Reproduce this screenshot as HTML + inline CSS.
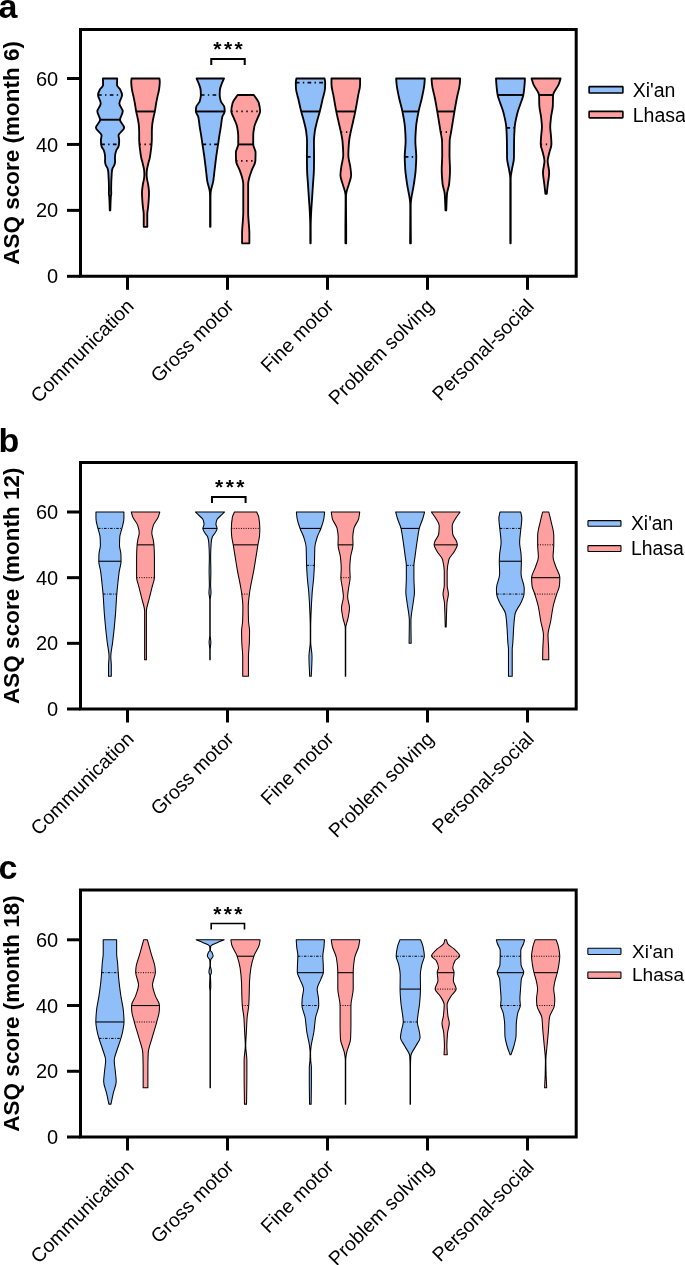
<!DOCTYPE html>
<html><head><meta charset="utf-8"><style>
html,body{margin:0;padding:0;background:#fff;overflow:hidden;}
svg{display:block;font-family:"Liberation Sans",sans-serif;will-change:transform;}
</style></head><body>
<svg width="685" height="1265" viewBox="0 0 685 1265">
<rect width="685" height="1265" fill="#fff"/>
<path d="M102.92 78.5 L117.17 78.5 C117.12 80.73 117.02 82.97 117.02 85.2 C117.02 86.53 119.31 87.87 119.97 89.2 C120.93 91.1 122.07 93 122.07 94.9 C122.07 97.77 119.37 100.63 119.37 103.5 C119.37 106.1 122.77 108.7 122.77 111.3 C122.77 114.13 119.97 116.97 119.97 119.8 C119.97 122.43 124.17 125.07 124.17 127.7 C124.17 130.3 118.52 132.9 118.52 135.5 C118.52 137 119.17 138.5 119.17 140 C119.17 141.47 119.1 142.93 118.97 144.4 C118.9 145.3 118.59 146.2 118.27 147.1 C117.87 148.23 116.7 149.37 116.27 150.5 C115.82 151.73 115.43 152.97 115.27 154.2 C115.12 155.4 114.97 156.6 114.97 157.8 C114.97 159 115.07 160.2 115.07 161.4 C115.07 162.6 114.72 163.8 114.37 165 C114.04 166.17 112.78 167.33 112.46 168.5 C112.14 169.67 111.93 170.83 111.83 172 C111.72 173.2 111.68 174.4 111.61 175.6 C111.48 177.97 111.31 180.33 111.25 182.7 C111.2 185.07 111.15 187.43 111.15 189.8 C111.15 191 111.25 192.2 111.25 193.4 C111.25 194.57 110.92 195.73 110.84 196.9 C110.67 199.3 110.59 201.7 110.5 204.1 C110.42 206.19 110.37 208.28 110.31 210.37 L109.79 210.37 C109.73 208.28 109.68 206.19 109.6 204.1 C109.51 201.7 109.43 199.3 109.26 196.9 C109.18 195.73 108.85 194.57 108.85 193.4 C108.85 192.2 108.95 191 108.95 189.8 C108.95 187.43 108.9 185.07 108.85 182.7 C108.79 180.33 108.62 177.97 108.49 175.6 C108.42 174.4 108.38 173.2 108.27 172 C108.17 170.83 107.96 169.67 107.64 168.5 C107.32 167.33 106.06 166.17 105.73 165 C105.38 163.8 105.03 162.6 105.03 161.4 C105.03 160.2 105.12 159 105.12 157.8 C105.12 156.6 104.98 155.4 104.83 154.2 C104.67 152.97 104.28 151.73 103.83 150.5 C103.4 149.37 102.23 148.23 101.83 147.1 C101.51 146.2 101.2 145.3 101.12 144.4 C101 142.93 100.92 141.47 100.92 140 C100.92 138.5 101.58 137 101.58 135.5 C101.58 132.9 95.92 130.3 95.92 127.7 C95.92 125.07 100.12 122.43 100.12 119.8 C100.12 116.97 97.33 114.13 97.33 111.3 C97.33 108.7 100.73 106.1 100.73 103.5 C100.73 100.63 98.03 97.77 98.03 94.9 C98.03 93 99.17 91.1 100.12 89.2 C100.79 87.87 103.08 86.53 103.08 85.2 C103.08 82.97 102.97 80.73 102.92 78.5 Z" fill="#90bef8" stroke="#000" stroke-width="1.85" stroke-linejoin="round"/><line x1="100.09" y1="119.71" x2="120.01" y2="119.71" stroke="#000" stroke-width="1.9"/><line x1="101.13" y1="144.43" x2="118.97" y2="144.43" stroke="#000" stroke-width="1.7" stroke-dasharray="3.7 3.3 1.4 3.3"/><line x1="98.05" y1="94.98" x2="122.05" y2="94.98" stroke="#000" stroke-width="1.7" stroke-dasharray="3.7 3.3 1.4 3.3"/>
<path d="M131.53 78.5 L159.47 78.5 C159.57 79.7 159.78 80.9 159.78 82.1 C159.78 84.47 159.43 86.83 159.12 89.2 C158.81 91.6 158.03 94 157.53 96.4 C157.03 98.77 156.54 101.13 156.12 103.5 C155.64 106.22 155.34 108.93 154.82 111.65 C154.44 113.67 153.82 115.68 153.42 117.7 C152.96 120.07 152.43 122.43 152.22 124.8 C152.03 127.17 151.82 129.53 151.82 131.9 C151.82 134.3 151.82 136.7 151.82 139.1 C151.82 140.98 151.66 142.87 151.53 144.75 C151.4 146.5 151.14 148.25 150.92 150 C150.63 152.37 150.35 154.73 149.92 157.1 C149.5 159.47 148.64 161.83 148.12 164.2 C147.6 166.6 146.86 169 146.75 171.4 C146.69 172.57 146.64 173.73 146.64 174.9 C146.64 176.1 146.82 177.3 146.96 178.5 C147.23 180.87 148.02 183.23 148.32 185.6 C148.63 187.97 149.03 190.33 149.03 192.7 C149.03 195.07 148.86 197.43 148.72 199.8 C148.59 202.17 148.36 204.53 148.12 206.9 C147.89 209.3 147.28 211.7 147.28 214.1 C147.28 216.47 147.28 218.83 147.28 221.2 C147.28 223.08 147.28 224.97 147.28 226.85 L143.72 226.85 C143.72 224.97 143.72 223.08 143.72 221.2 C143.72 218.83 143.72 216.47 143.72 214.1 C143.72 211.7 143.11 209.3 142.88 206.9 C142.64 204.53 142.41 202.17 142.28 199.8 C142.14 197.43 141.97 195.07 141.97 192.7 C141.97 190.33 142.37 187.97 142.68 185.6 C142.98 183.23 143.77 180.87 144.04 178.5 C144.18 177.3 144.36 176.1 144.36 174.9 C144.36 173.73 144.31 172.57 144.25 171.4 C144.14 169 143.4 166.6 142.88 164.2 C142.36 161.83 141.5 159.47 141.08 157.1 C140.65 154.73 140.37 152.37 140.08 150 C139.86 148.25 139.6 146.5 139.47 144.75 C139.34 142.87 139.18 140.98 139.18 139.1 C139.18 136.7 139.18 134.3 139.18 131.9 C139.18 129.53 138.97 127.17 138.78 124.8 C138.57 122.43 138.04 120.07 137.58 117.7 C137.18 115.68 136.56 113.67 136.18 111.65 C135.66 108.93 135.36 106.22 134.88 103.5 C134.46 101.13 133.97 98.77 133.47 96.4 C132.97 94 132.19 91.6 131.88 89.2 C131.57 86.83 131.22 84.47 131.22 82.1 C131.22 80.9 131.43 79.7 131.53 78.5 Z" fill="#ffa0a0" stroke="#000" stroke-width="1.85" stroke-linejoin="round"/><line x1="136.15" y1="111.47" x2="154.85" y2="111.47" stroke="#000" stroke-width="1.9"/><line x1="139.46" y1="144.43" x2="151.54" y2="144.43" stroke="#000" stroke-width="1.7" stroke-dasharray="1.4 3.6"/>
<path d="M196.52 78.5 L224.03 78.5 C223.2 80.41 222.2 82.32 221.54 84.23 C220.88 86.13 220.03 88.03 219.9 89.93 C219.78 91.73 219.69 93.53 219.69 95.34 C219.69 97.33 220.24 99.32 220.83 101.32 C221.38 103.21 224.11 105.11 224.38 107.01 C224.59 108.43 224.74 109.86 224.74 111.28 C224.74 113.18 222.68 115.08 222.25 116.98 C221.5 120.3 221.34 123.62 220.83 126.94 C220.39 129.79 219.85 132.63 219.4 135.48 C218.95 138.33 218.55 141.17 218.12 144.02 C217.55 147.82 216.93 151.61 216.41 155.41 C215.76 160.15 215.21 164.9 214.63 169.64 C214.17 173.44 213.88 177.24 213.28 181.03 C212.69 184.83 210.84 188.62 210.65 192.42 C210.55 194.32 210.47 196.22 210.47 198.11 C210.47 207.69 210.47 217.27 210.47 226.85 L210.07 226.85 C210.07 217.27 210.07 207.69 210.07 198.11 C210.07 196.22 209.99 194.32 209.9 192.42 C209.71 188.62 207.86 184.83 207.27 181.03 C206.67 177.24 206.38 173.44 205.92 169.64 C205.34 164.9 204.78 160.15 204.14 155.41 C203.62 151.61 203 147.82 202.43 144.02 C202 141.17 201.6 138.33 201.15 135.48 C200.7 132.63 200.16 129.79 199.72 126.94 C199.21 123.62 199.05 120.3 198.3 116.98 C197.87 115.08 195.81 113.18 195.81 111.28 C195.81 109.86 195.96 108.43 196.16 107.01 C196.43 105.11 199.17 103.21 199.72 101.32 C200.31 99.32 200.86 97.33 200.86 95.34 C200.86 93.53 200.77 91.73 200.65 89.93 C200.52 88.03 199.67 86.13 199.01 84.23 C198.35 82.32 197.35 80.41 196.52 78.5 Z" fill="#90bef8" stroke="#000" stroke-width="1.85" stroke-linejoin="round"/><line x1="195.89" y1="111.47" x2="224.66" y2="111.47" stroke="#000" stroke-width="1.9"/><line x1="202.49" y1="144.43" x2="218.06" y2="144.43" stroke="#000" stroke-width="1.7" stroke-dasharray="3.7 3.3 1.4 3.3"/><line x1="200.85" y1="94.98" x2="219.7" y2="94.98" stroke="#000" stroke-width="1.7" stroke-dasharray="3.7 3.3 1.4 3.3"/>
<path d="M237.66 94.98 L253.78 94.98 C255.44 97.57 258.07 100.15 258.76 102.74 C259.52 105.59 260.18 108.43 260.18 111.28 C260.18 113.65 258.38 116.03 257.48 118.4 C256.41 121.25 254.81 124.09 254.28 126.94 C253.74 129.79 253.21 132.63 253.21 135.48 C253.21 138.42 253.21 141.36 253.21 144.31 C253.21 147.06 255.56 149.81 255.56 152.56 C255.56 155.41 255.48 158.26 255.34 161.1 C255.21 163.95 253.02 166.8 252 169.64 C250.97 172.49 249.79 175.34 249.15 178.19 C248.73 180.08 248.16 181.98 248.16 183.88 C248.16 193.37 248.16 202.86 248.16 212.35 C248.16 219.47 249.37 226.58 249.37 233.7 C249.37 236.91 249.37 240.12 249.37 243.33 L242.07 243.33 C242.07 240.12 242.07 236.91 242.07 233.7 C242.07 226.58 243.28 219.47 243.28 212.35 C243.28 202.86 243.28 193.37 243.28 183.88 C243.28 181.98 242.71 180.08 242.29 178.19 C241.65 175.34 240.46 172.49 239.44 169.64 C238.41 166.8 236.23 163.95 236.09 161.1 C235.96 158.26 235.88 155.41 235.88 152.56 C235.88 149.81 238.23 147.06 238.23 144.31 C238.23 141.36 238.23 138.42 238.23 135.48 C238.23 132.63 237.69 129.79 237.16 126.94 C236.63 124.09 235.03 121.25 233.96 118.4 C233.06 116.03 231.25 113.65 231.25 111.28 C231.25 108.43 231.92 105.59 232.68 102.74 C233.37 100.15 236 97.57 237.66 94.98 Z" fill="#ffa0a0" stroke="#000" stroke-width="1.85" stroke-linejoin="round"/><line x1="238.19" y1="144.43" x2="253.25" y2="144.43" stroke="#000" stroke-width="1.9"/><line x1="236.09" y1="160.92" x2="255.35" y2="160.92" stroke="#000" stroke-width="1.7" stroke-dasharray="1.4 3.6"/><line x1="231.32" y1="111.47" x2="260.11" y2="111.47" stroke="#000" stroke-width="1.7" stroke-dasharray="1.4 3.6"/>
<path d="M296.38 78.5 L324.6 78.5 C324.79 79.94 325.17 81.37 325.17 82.81 C325.17 84.71 325.1 86.61 325.02 88.51 C324.88 91.83 323.51 95.15 322.75 98.47 C321.75 102.84 320.86 107.2 319.76 111.57 C318.94 114.79 317.85 118.02 317.05 121.25 C316.23 124.57 315.28 127.89 314.85 131.21 C314.41 134.53 313.92 137.85 313.92 141.17 C313.92 146.3 314.06 151.42 314.06 156.55 C314.06 160.91 314 165.28 313.92 169.64 C313.83 174.39 313.33 179.13 313.02 183.88 C312.72 188.62 312.4 193.37 312.09 198.11 C311.77 202.86 311.35 207.6 311.15 212.35 C310.94 217.09 310.69 221.84 310.69 226.58 C310.69 232.17 310.69 237.75 310.69 243.33 L310.29 243.33 C310.29 237.75 310.29 232.17 310.29 226.58 C310.29 221.84 310.03 217.09 309.83 212.35 C309.62 207.6 309.2 202.86 308.89 198.11 C308.58 193.37 308.26 188.62 307.95 183.88 C307.64 179.13 307.14 174.39 307.05 169.64 C306.97 165.28 306.91 160.91 306.91 156.55 C306.91 151.42 307.05 146.3 307.05 141.17 C307.05 137.85 306.56 134.53 306.13 131.21 C305.69 127.89 304.74 124.57 303.92 121.25 C303.12 118.02 302.03 114.79 301.22 111.57 C300.12 107.2 299.23 102.84 298.23 98.47 C297.47 95.15 296.09 91.83 295.95 88.51 C295.87 86.61 295.81 84.71 295.81 82.81 C295.81 81.37 296.19 79.94 296.38 78.5 Z" fill="#90bef8" stroke="#000" stroke-width="1.85" stroke-linejoin="round"/><line x1="301.19" y1="111.47" x2="319.78" y2="111.47" stroke="#000" stroke-width="1.9"/><line x1="306.91" y1="156.79" x2="314.06" y2="156.79" stroke="#000" stroke-width="1.7" stroke-dasharray="3.7 3.3 1.4 3.3"/><line x1="295.83" y1="82.62" x2="325.14" y2="82.62" stroke="#000" stroke-width="1.7" stroke-dasharray="3.7 3.3 1.4 3.3"/>
<path d="M331.47 78.5 L360.11 78.5 C360.11 80.41 360.11 82.32 360.11 84.23 C360.11 88.03 358.79 91.83 358.12 95.62 C357.18 100.94 356.33 106.25 355.27 111.57 C354.63 114.79 353.86 118.02 353.14 121.25 C352.32 124.9 351.37 128.55 350.65 132.21 C350.06 135.2 349.33 138.19 349.08 141.17 C348.68 145.92 348.33 150.66 348.33 155.41 C348.33 159.21 349.82 163 350.29 166.8 C350.65 169.64 351.15 172.49 351.15 175.34 C351.15 178.19 349.72 181.03 348.98 183.88 C348.01 187.67 345.99 191.47 345.99 195.27 C345.99 198.59 345.99 201.91 345.99 205.23 C345.99 212.35 346.17 219.47 346.17 226.58 C346.17 232.17 346.17 237.75 346.17 243.33 L345.41 243.33 C345.41 237.75 345.41 232.17 345.41 226.58 C345.41 219.47 345.59 212.35 345.59 205.23 C345.59 201.91 345.59 198.59 345.59 195.27 C345.59 191.47 343.57 187.67 342.6 183.88 C341.86 181.03 340.43 178.19 340.43 175.34 C340.43 172.49 340.93 169.64 341.29 166.8 C341.76 163 343.25 159.21 343.25 155.41 C343.25 150.66 342.9 145.92 342.5 141.17 C342.25 138.19 341.52 135.2 340.93 132.21 C340.21 128.55 339.26 124.9 338.44 121.25 C337.72 118.02 336.95 114.79 336.31 111.57 C335.25 106.25 334.4 100.94 333.46 95.62 C332.79 91.83 331.47 88.03 331.47 84.23 C331.47 82.32 331.47 80.41 331.47 78.5 Z" fill="#ffa0a0" stroke="#000" stroke-width="1.85" stroke-linejoin="round"/><line x1="336.29" y1="111.47" x2="355.29" y2="111.47" stroke="#000" stroke-width="1.9"/><line x1="340.9" y1="132.07" x2="350.68" y2="132.07" stroke="#000" stroke-width="1.7" stroke-dasharray="1.4 3.6"/>
<path d="M396.16 78.5 L424.81 78.5 C424.67 80.41 424.58 82.32 424.38 84.23 C423.91 88.98 422.75 93.72 421.75 98.47 C420.83 102.84 419.4 107.2 418.55 111.57 C417.54 116.69 416.45 121.81 416.06 126.94 C415.7 131.68 415.34 136.43 415.34 141.17 C415.34 146.3 416.27 151.42 416.27 156.55 C416.27 160.91 415.98 165.28 415.7 169.64 C415.4 174.39 414.57 179.13 413.92 183.88 C412.95 191 410.69 198.11 410.69 205.23 C410.69 207.6 410.69 209.98 410.69 212.35 C410.69 222.68 410.8 233 410.86 243.33 L410.11 243.33 C410.17 233 410.29 222.68 410.29 212.35 C410.29 209.98 410.29 207.6 410.29 205.23 C410.29 198.11 408.02 191 407.05 183.88 C406.41 179.13 405.58 174.39 405.27 169.64 C404.99 165.28 404.71 160.91 404.71 156.55 C404.71 151.42 405.63 146.3 405.63 141.17 C405.63 136.43 405.28 131.68 404.92 126.94 C404.53 121.81 403.43 116.69 402.43 111.57 C401.57 107.2 400.15 102.84 399.22 98.47 C398.22 93.72 397.07 88.98 396.59 84.23 C396.4 82.32 396.31 80.41 396.16 78.5 Z" fill="#90bef8" stroke="#000" stroke-width="1.85" stroke-linejoin="round"/><line x1="402.4" y1="111.47" x2="418.57" y2="111.47" stroke="#000" stroke-width="1.9"/><line x1="404.72" y1="156.79" x2="416.26" y2="156.79" stroke="#000" stroke-width="1.7" stroke-dasharray="3.7 3.3 1.4 3.3"/>
<path d="M431.54 78.5 L460.18 78.5 C460.04 80.41 459.95 82.32 459.76 84.23 C459.27 88.98 457.69 93.72 456.77 98.47 C455.92 102.84 455.16 107.2 454.42 111.57 C453.55 116.69 452.76 121.81 451.93 126.94 C451.64 128.7 451.36 130.45 451.07 132.21 C450.59 135.2 449.71 138.19 449.65 141.17 C449.56 145.92 449.51 150.66 449.51 155.41 C449.51 160.15 450.01 164.9 450.01 169.64 C450.01 174.39 449.61 179.13 449.15 183.88 C448.83 187.2 447.25 190.52 446.99 193.84 C446.55 199.35 446.49 204.86 446.24 210.37 L445.49 210.37 C445.23 204.86 445.17 199.35 444.73 193.84 C444.47 190.52 442.9 187.2 442.57 183.88 C442.11 179.13 441.72 174.39 441.72 169.64 C441.72 164.9 442.21 160.15 442.21 155.41 C442.21 150.66 442.17 145.92 442.07 141.17 C442.01 138.19 441.13 135.2 440.65 132.21 C440.37 130.45 440.08 128.7 439.79 126.94 C438.96 121.81 438.18 116.69 437.3 111.57 C436.56 107.2 435.8 102.84 434.95 98.47 C434.04 93.72 432.45 88.98 431.96 84.23 C431.77 82.32 431.68 80.41 431.54 78.5 Z" fill="#ffa0a0" stroke="#000" stroke-width="1.85" stroke-linejoin="round"/><line x1="437.28" y1="111.47" x2="454.44" y2="111.47" stroke="#000" stroke-width="1.9"/><line x1="440.63" y1="132.07" x2="451.1" y2="132.07" stroke="#000" stroke-width="1.7" stroke-dasharray="1.4 3.6"/>
<path d="M496.02 78.5 L524.95 78.5 C524.83 80.41 524.75 82.32 524.6 84.23 C524.32 87.79 524 91.35 523.39 94.91 C523.02 97.05 522.09 99.18 521.39 101.32 C520.16 105.11 518.42 108.91 517.48 112.7 C516.24 117.69 514.97 122.67 514.63 127.65 C514.33 132.16 514.13 136.67 514.06 141.17 C513.98 146.87 514.02 152.56 513.92 158.26 C513.86 162.05 512.49 165.85 511.9 169.64 C511.45 172.49 510.69 175.34 510.69 178.19 C510.69 199.9 510.69 221.62 510.69 243.33 L510.29 243.33 C510.29 221.62 510.29 199.9 510.29 178.19 C510.29 175.34 509.52 172.49 509.08 169.64 C508.48 165.85 507.12 162.05 507.05 158.26 C506.96 152.56 506.99 146.87 506.91 141.17 C506.85 136.67 506.65 132.16 506.34 127.65 C506 122.67 504.73 117.69 503.5 112.7 C502.55 108.91 500.81 105.11 499.58 101.32 C498.89 99.18 497.96 97.05 497.59 94.91 C496.97 91.35 496.65 87.79 496.38 84.23 C496.23 82.32 496.14 80.41 496.02 78.5 Z" fill="#90bef8" stroke="#000" stroke-width="1.85" stroke-linejoin="round"/><line x1="497.61" y1="94.98" x2="523.37" y2="94.98" stroke="#000" stroke-width="1.9"/><line x1="506.35" y1="127.95" x2="514.62" y2="127.95" stroke="#000" stroke-width="1.7" stroke-dasharray="3.7 3.3 1.4 3.3"/>
<path d="M531.54 78.5 L560.61 78.5 C559.99 80.41 559.5 82.32 558.76 84.23 C557.33 87.94 553.21 91.64 553.07 95.34 C552.93 98.75 552.98 102.17 552.85 105.59 C552.72 109.38 551.49 113.18 551.07 116.98 C550.71 120.3 550.22 123.62 550.22 126.94 C550.22 130.26 550.87 133.58 551.07 136.9 C551.22 139.37 551.43 141.84 551.43 144.31 C551.43 147.06 549.97 149.81 549.36 152.56 C548.73 155.41 547.67 158.26 547.67 161.1 C547.67 164.9 549.18 168.7 549.18 172.49 C549.18 176.29 548.29 180.08 547.86 183.88 C547.48 187.21 547.11 190.55 546.73 193.88 L545.42 193.88 C545.04 190.55 544.67 187.21 544.29 183.88 C543.86 180.08 542.97 176.29 542.97 172.49 C542.97 168.7 544.48 164.9 544.48 161.1 C544.48 158.26 543.42 155.41 542.79 152.56 C542.18 149.81 540.72 147.06 540.72 144.31 C540.72 141.84 540.93 139.37 541.08 136.9 C541.28 133.58 541.93 130.26 541.93 126.94 C541.93 123.62 541.44 120.3 541.08 116.98 C540.66 113.18 539.43 109.38 539.3 105.59 C539.17 102.17 539.22 98.75 539.08 95.34 C538.94 91.64 534.82 87.94 533.39 84.23 C532.65 82.32 532.15 80.41 531.54 78.5 Z" fill="#ffa0a0" stroke="#000" stroke-width="1.85" stroke-linejoin="round"/><line x1="538.9" y1="94.98" x2="553.25" y2="94.98" stroke="#000" stroke-width="1.9"/><line x1="540.75" y1="144.43" x2="551.4" y2="144.43" stroke="#000" stroke-width="1.7" stroke-dasharray="1.4 3.6"/>
<path d="M80.5 29.5 H576.2 V276.3 H80.5 Z" fill="none" stroke="#000" stroke-width="3"/>
<line x1="67" y1="276.3" x2="80.5" y2="276.3" stroke="#000" stroke-width="3"/>
<text x="58.2" y="283.4" text-anchor="end" font-size="20">0</text>
<line x1="67" y1="210.37" x2="80.5" y2="210.37" stroke="#000" stroke-width="3"/>
<text x="58.2" y="217.47" text-anchor="end" font-size="20">20</text>
<line x1="67" y1="144.43" x2="80.5" y2="144.43" stroke="#000" stroke-width="3"/>
<text x="58.2" y="151.53" text-anchor="end" font-size="20">40</text>
<line x1="67" y1="78.5" x2="80.5" y2="78.5" stroke="#000" stroke-width="3"/>
<text x="58.2" y="85.6" text-anchor="end" font-size="20">60</text>
<line x1="127.5" y1="276.3" x2="127.5" y2="289.8" stroke="#000" stroke-width="3"/>
<text x="135" y="307.4" text-anchor="end" font-size="19.6" transform="rotate(-45 135 307.4)">Communication</text>
<line x1="227.5" y1="276.3" x2="227.5" y2="289.8" stroke="#000" stroke-width="3"/>
<text x="235" y="307.4" text-anchor="end" font-size="19.6" transform="rotate(-45 235 307.4)">Gross motor</text>
<line x1="327.5" y1="276.3" x2="327.5" y2="289.8" stroke="#000" stroke-width="3"/>
<text x="335" y="307.4" text-anchor="end" font-size="19.6" transform="rotate(-45 335 307.4)">Fine motor</text>
<line x1="427.5" y1="276.3" x2="427.5" y2="289.8" stroke="#000" stroke-width="3"/>
<text x="435" y="307.4" text-anchor="end" font-size="19.6" transform="rotate(-45 435 307.4)">Problem solving</text>
<line x1="527.5" y1="276.3" x2="527.5" y2="289.8" stroke="#000" stroke-width="3"/>
<text x="535" y="307.4" text-anchor="end" font-size="19.6" transform="rotate(-45 535 307.4)">Personal-social</text>
<path d="M211.27 65 V59 H244.72 V65" fill="none" stroke="#000" stroke-width="2"/>
<text x="229.2" y="55.6" text-anchor="middle" font-size="21" font-weight="bold" letter-spacing="2.4">***</text>
<rect x="589.1" y="86.6" width="33.8" height="6.4" fill="#90bef8" stroke="#000" stroke-width="1.6" rx="0.6"/>
<rect x="589.1" y="111.4" width="33.8" height="6.5" fill="#ffa0a0" stroke="#000" stroke-width="1.6" rx="0.6"/>
<text x="632.7" y="97" font-size="19.5">Xi'an</text>
<text x="632.7" y="121.7" font-size="19.5">Lhasa</text>
<text x="-1.5" y="18" font-size="34" font-weight="bold">a</text>
<text x="19" y="152.9" text-anchor="middle" font-size="22.5" font-weight="bold" transform="rotate(-90 19 152.9)">ASQ score (month 6)</text>
<path d="M95.96 512 L123.9 512 C123.9 514.17 123.9 516.34 123.9 518.51 C123.9 521.83 122.64 525.15 121.9 528.47 C121.27 531.32 119.94 534.16 119.77 537.01 C119.6 539.86 119.48 542.7 119.48 545.55 C119.48 548.4 120.81 551.25 120.91 554.09 C120.99 556.56 121.05 559.03 121.05 561.49 C121.05 564.72 119.73 567.95 119.27 571.17 C118.59 575.92 118.13 580.66 117.63 585.41 C117.33 588.35 117.01 591.29 116.78 594.23 C116.26 600.78 116 607.33 115.5 613.88 C115.14 618.62 114.69 623.37 114.22 628.11 C113.74 632.86 113.19 637.6 112.62 642.35 C112.06 647.09 110.81 651.84 110.81 656.58 C110.81 659.43 111.3 662.28 111.3 665.12 C111.3 668.81 111.3 672.49 111.3 676.17 L108.56 676.17 C108.56 672.49 108.56 668.81 108.56 665.12 C108.56 662.28 109.05 659.43 109.05 656.58 C109.05 651.84 107.8 647.09 107.24 642.35 C106.67 637.6 106.11 632.86 105.64 628.11 C105.17 623.37 104.72 618.62 104.36 613.88 C103.86 607.33 103.6 600.78 103.08 594.23 C102.84 591.29 102.53 588.35 102.22 585.41 C101.73 580.66 101.27 575.92 100.59 571.17 C100.12 567.95 98.81 564.72 98.81 561.49 C98.81 559.03 98.87 556.56 98.95 554.09 C99.05 551.25 100.37 548.4 100.37 545.55 C100.37 542.7 100.26 539.86 100.09 537.01 C99.92 534.16 98.59 531.32 97.95 528.47 C97.21 525.15 95.96 521.83 95.96 518.51 C95.96 516.34 95.96 514.17 95.96 512 Z" fill="#90bef8" stroke="#000" stroke-width="1.05" stroke-linejoin="round"/><line x1="98.81" y1="561.25" x2="121.04" y2="561.25" stroke="#000" stroke-width="1.1"/><line x1="103.06" y1="594.08" x2="116.79" y2="594.08" stroke="#000" stroke-width="1" stroke-dasharray="2.5 1.4 0.8 1.4"/><line x1="97.94" y1="528.42" x2="121.91" y2="528.42" stroke="#000" stroke-width="1" stroke-dasharray="2.5 1.4 0.8 1.4"/>
<path d="M131.26 512 L159.77 512 C159.25 513.7 158.87 515.39 158.2 517.08 C157.08 519.93 154.06 522.78 153.22 525.62 C152.52 528 151.8 530.37 151.8 532.74 C151.8 535.11 152.83 537.49 153.22 539.86 C153.49 541.52 153.82 543.18 153.93 544.84 C154.21 548.87 154.43 552.91 154.43 556.94 C154.43 563.82 154.43 570.7 154.43 577.58 C154.43 580.19 153.15 582.8 152.51 585.41 C151.33 590.15 150.07 594.9 148.95 599.64 C148.05 603.44 146.39 607.24 146.39 611.03 C146.39 627.27 146.39 643.51 146.39 659.75 L144.64 659.75 C144.64 643.51 144.64 627.27 144.64 611.03 C144.64 607.24 142.98 603.44 142.08 599.64 C140.96 594.9 139.7 590.15 138.52 585.41 C137.88 582.8 136.6 580.19 136.6 577.58 C136.6 570.7 136.6 563.82 136.6 556.94 C136.6 552.91 136.82 548.87 137.1 544.84 C137.22 543.18 137.54 541.52 137.81 539.86 C138.2 537.49 139.24 535.11 139.24 532.74 C139.24 530.37 138.51 528 137.81 525.62 C136.98 522.78 133.95 519.93 132.83 517.08 C132.16 515.39 131.79 513.7 131.26 512 Z" fill="#ffa0a0" stroke="#000" stroke-width="1.05" stroke-linejoin="round"/><line x1="137.1" y1="544.84" x2="153.93" y2="544.84" stroke="#000" stroke-width="1.1"/><line x1="136.62" y1="577.67" x2="154.41" y2="577.67" stroke="#000" stroke-width="1" stroke-dasharray="1 1.4"/>
<path d="M195.38 512 L224.6 512 C223.84 512.75 223.06 513.49 222.32 514.23 C220.43 516.13 217.49 518.03 216.84 519.93 C216.35 521.35 215.91 522.78 215.91 524.2 C215.91 525.62 217.12 527.05 217.12 528.47 C217.12 529.89 215.98 531.32 215.2 532.74 C214.43 534.16 212.7 535.59 212.27 537.01 C211.69 538.91 211.34 540.81 211.2 542.7 C210.85 547.45 210.62 552.19 210.62 556.94 C210.62 561.68 210.87 566.43 210.87 571.17 C210.87 575.92 210.62 580.66 210.62 585.41 C210.62 587.78 211.03 590.15 211.03 592.53 C211.03 594.9 210.19 597.27 210.19 599.64 C210.19 611.51 210.19 623.37 210.19 635.23 C210.19 637.6 210.87 639.98 210.87 642.35 C210.87 644.72 210.19 647.09 210.19 649.47 C210.19 652.89 210.19 656.32 210.19 659.75 L209.79 659.75 C209.79 656.32 209.79 652.89 209.79 649.47 C209.79 647.09 209.11 644.72 209.11 642.35 C209.11 639.98 209.79 637.6 209.79 635.23 C209.79 623.37 209.79 611.51 209.79 599.64 C209.79 597.27 208.95 594.9 208.95 592.53 C208.95 590.15 209.36 587.78 209.36 585.41 C209.36 580.66 209.11 575.92 209.11 571.17 C209.11 566.43 209.36 561.68 209.36 556.94 C209.36 552.19 209.13 547.45 208.78 542.7 C208.64 540.81 208.29 538.91 207.71 537.01 C207.28 535.59 205.55 534.16 204.78 532.74 C204 531.32 202.85 529.89 202.85 528.47 C202.85 527.05 204.06 525.62 204.06 524.2 C204.06 522.78 203.63 521.35 203.14 519.93 C202.49 518.03 199.55 516.13 197.66 514.23 C196.92 513.49 196.14 512.75 195.38 512 Z" fill="#90bef8" stroke="#000" stroke-width="1.05" stroke-linejoin="round"/><line x1="202.87" y1="528.42" x2="217.11" y2="528.42" stroke="#000" stroke-width="1.1"/>
<path d="M234.46 512 L256.7 512 C257.39 513.7 258.48 515.39 258.76 517.08 C259.39 520.88 259.83 524.67 259.83 528.47 C259.83 530.84 259.69 533.21 259.54 535.59 C259.35 538.67 258.42 541.76 257.91 544.84 C257.23 548.87 256.64 552.91 255.99 556.94 C255.22 561.68 254.49 566.43 253.64 571.17 C252.78 575.92 251.63 580.66 250.79 585.41 C250.27 588.35 249.71 591.29 249.37 594.23 C248.88 598.41 248.27 602.59 248.27 606.76 C248.27 611.51 248.37 616.25 248.51 621 C248.61 624.32 249.58 627.64 249.58 630.96 C249.58 634.76 249.47 638.55 249.37 642.35 C249.23 647.09 248.44 651.84 248.44 656.58 C248.44 663.11 248.44 669.64 248.44 676.17 L242.72 676.17 C242.72 669.64 242.72 663.11 242.72 656.58 C242.72 651.84 241.92 647.09 241.79 642.35 C241.68 638.55 241.57 634.76 241.57 630.96 C241.57 627.64 242.54 624.32 242.64 621 C242.79 616.25 242.88 611.51 242.88 606.76 C242.88 602.59 242.27 598.41 241.79 594.23 C241.45 591.29 240.88 588.35 240.36 585.41 C239.52 580.66 238.37 575.92 237.52 571.17 C236.66 566.43 235.94 561.68 235.17 556.94 C234.52 552.91 233.92 548.87 233.25 544.84 C232.73 541.76 231.8 538.67 231.61 535.59 C231.46 533.21 231.32 530.84 231.32 528.47 C231.32 524.67 231.76 520.88 232.39 517.08 C232.67 515.39 233.77 513.7 234.46 512 Z" fill="#ffa0a0" stroke="#000" stroke-width="1.05" stroke-linejoin="round"/><line x1="233.25" y1="544.84" x2="257.91" y2="544.84" stroke="#000" stroke-width="1.1"/><line x1="241.76" y1="594.08" x2="249.39" y2="594.08" stroke="#000" stroke-width="1" stroke-dasharray="1 1.4"/><line x1="231.33" y1="528.42" x2="259.82" y2="528.42" stroke="#000" stroke-width="1" stroke-dasharray="1 1.4"/>
<path d="M296.38 512 L324.6 512 C324.36 514.17 324.22 516.34 323.89 518.51 C323.37 521.83 322.07 525.15 320.9 528.47 C319.89 531.32 318.15 534.16 317.27 537.01 C316.23 540.33 315 543.65 314.85 546.98 C314.57 552.91 314.62 558.84 314.42 564.77 C314.26 569.28 313.97 573.78 313.64 578.29 C313.29 583.04 312.53 587.78 312.19 592.53 C311.68 599.64 311.27 606.76 311.03 613.88 C310.88 618.62 310.69 623.37 310.69 628.11 C310.69 632.86 310.69 637.6 310.7 642.35 C310.72 647.09 312.03 651.84 312.03 656.58 C312.03 663.11 311.53 669.64 311.28 676.17 L309.69 676.17 C309.45 669.64 308.95 663.11 308.95 656.58 C308.95 651.84 310.26 647.09 310.27 642.35 C310.28 637.6 310.29 632.86 310.29 628.11 C310.29 623.37 310.1 618.62 309.94 613.88 C309.71 606.76 309.3 599.64 308.78 592.53 C308.44 587.78 307.69 583.04 307.34 578.29 C307.01 573.78 306.71 569.28 306.56 564.77 C306.35 558.84 306.41 552.91 306.13 546.98 C305.97 543.65 304.74 540.33 303.71 537.01 C302.82 534.16 301.08 531.32 300.08 528.47 C298.91 525.15 297.61 521.83 297.09 518.51 C296.75 516.34 296.61 514.17 296.38 512 Z" fill="#90bef8" stroke="#000" stroke-width="1.05" stroke-linejoin="round"/><line x1="300.06" y1="528.42" x2="320.91" y2="528.42" stroke="#000" stroke-width="1.1"/><line x1="306.59" y1="565.36" x2="314.39" y2="565.36" stroke="#000" stroke-width="1" stroke-dasharray="2.5 1.4 0.8 1.4"/>
<path d="M331.25 512 L359.76 512 C359.4 514.17 359.2 516.34 358.69 518.51 C357.9 521.83 354.6 525.15 353.92 528.47 C353.34 531.32 352.78 534.16 352.78 537.01 C352.78 539.62 353 542.23 353 544.84 C353 548.87 350.99 552.91 350.58 556.94 C350.19 560.74 349.79 564.53 349.79 568.33 C349.79 571.41 350.15 574.5 350.15 577.58 C350.15 581.14 349.03 584.7 348.58 588.26 C348.22 591.1 347.62 593.95 347.62 596.8 C347.62 600.59 349.51 604.39 349.51 608.19 C349.51 611.51 348.63 614.83 348.03 618.15 C347.43 621.47 345.72 624.79 345.72 628.11 C345.72 644.13 345.72 660.15 345.72 676.17 L345.29 676.17 C345.29 660.15 345.29 644.13 345.29 628.11 C345.29 624.79 343.58 621.47 342.98 618.15 C342.38 614.83 341.5 611.51 341.5 608.19 C341.5 604.39 343.39 600.59 343.39 596.8 C343.39 593.95 342.79 591.1 342.43 588.26 C341.98 584.7 340.86 581.14 340.86 577.58 C340.86 574.5 341.22 571.41 341.22 568.33 C341.22 564.53 340.82 560.74 340.43 556.94 C340.02 552.91 338.01 548.87 338.01 544.84 C338.01 542.23 338.23 539.62 338.23 537.01 C338.23 534.16 337.67 531.32 337.09 528.47 C336.41 525.15 333.11 521.83 332.32 518.51 C331.81 516.34 331.61 514.17 331.25 512 Z" fill="#ffa0a0" stroke="#000" stroke-width="1.05" stroke-linejoin="round"/><line x1="338.01" y1="544.84" x2="353" y2="544.84" stroke="#000" stroke-width="1.1"/><line x1="340.87" y1="577.67" x2="350.14" y2="577.67" stroke="#000" stroke-width="1" stroke-dasharray="1 1.4"/>
<path d="M395.67 512 L424.6 512 C424 514.17 423.48 516.34 422.82 518.51 C421.8 521.83 420.03 525.15 419.26 528.47 C418.16 533.21 417.62 537.96 416.91 542.7 C416.21 547.45 415.6 552.19 414.99 556.94 C414.62 559.79 413.92 562.63 413.92 565.48 C413.92 569.75 413.92 574.02 413.92 578.29 C413.92 583.04 414.42 587.78 414.42 592.53 C414.42 595.85 413.62 599.17 413.21 602.49 C412.46 608.66 410.93 614.83 410.93 621 C410.93 628.44 411.09 635.89 411.17 643.33 L409.09 643.33 C409.17 635.89 409.34 628.44 409.34 621 C409.34 614.83 407.81 608.66 407.05 602.49 C406.65 599.17 405.84 595.85 405.84 592.53 C405.84 587.78 406.34 583.04 406.34 578.29 C406.34 574.02 406.34 569.75 406.34 565.48 C406.34 562.63 405.64 559.79 405.27 556.94 C404.66 552.19 404.06 547.45 403.35 542.7 C402.65 537.96 402.1 533.21 401 528.47 C400.24 525.15 398.46 521.83 397.45 518.51 C396.78 516.34 396.26 514.17 395.67 512 Z" fill="#90bef8" stroke="#000" stroke-width="1.05" stroke-linejoin="round"/><line x1="400.99" y1="528.42" x2="419.28" y2="528.42" stroke="#000" stroke-width="1.1"/><line x1="406.33" y1="565.36" x2="413.94" y2="565.36" stroke="#000" stroke-width="1" stroke-dasharray="2.5 1.4 0.8 1.4"/>
<path d="M431.4 512 L460.04 512 C458.55 514.17 456.77 516.34 455.56 518.51 C454.23 520.88 452.21 523.25 452.21 525.62 C452.21 528.47 452.4 531.32 452.71 534.16 C452.97 536.54 455.73 538.91 456.48 541.28 C456.86 542.47 457.34 543.65 457.34 544.84 C457.34 546.98 455.62 549.11 454.49 551.25 C452.99 554.09 449.49 556.94 448.8 559.79 C447.88 563.58 447.17 567.38 447.17 571.17 C447.17 575.92 447.17 580.66 447.17 585.41 C447.17 588.26 448.41 591.1 448.41 593.95 C448.41 596.8 447.19 599.64 447.01 602.49 C446.5 610.63 446.46 618.78 446.18 626.92 L445.25 626.92 C444.98 618.78 444.94 610.63 444.43 602.49 C444.25 599.64 443.03 596.8 443.03 593.95 C443.03 591.1 444.26 588.26 444.26 585.41 C444.26 580.66 444.26 575.92 444.26 571.17 C444.26 567.38 443.56 563.58 442.64 559.79 C441.95 556.94 438.45 554.09 436.95 551.25 C435.82 549.11 434.1 546.98 434.1 544.84 C434.1 543.65 434.58 542.47 434.95 541.28 C435.71 538.91 438.47 536.54 438.73 534.16 C439.03 531.32 439.22 528.47 439.22 525.62 C439.22 523.25 437.21 520.88 435.88 518.51 C434.66 516.34 432.89 514.17 431.4 512 Z" fill="#ffa0a0" stroke="#000" stroke-width="1.05" stroke-linejoin="round"/><line x1="434.1" y1="544.84" x2="457.34" y2="544.84" stroke="#000" stroke-width="1.1"/>
<path d="M499.94 512 L520.75 512 C521.11 514.17 521.82 516.34 521.82 518.51 C521.82 521.83 521.2 525.15 520.9 528.47 C520.46 533.21 519.62 537.96 519.62 542.7 C519.62 546.5 520.78 550.3 521.04 554.09 C521.2 556.56 521.39 559.03 521.39 561.49 C521.39 565.67 521.04 569.85 521.04 574.02 C521.04 578.77 524.24 583.51 524.24 588.26 C524.24 590.25 524.15 592.24 524.03 594.23 C523.86 596.99 522.21 599.74 521.04 602.49 C519.43 606.29 515.71 610.08 515.06 613.88 C514.24 618.62 513.97 623.37 513.64 628.11 C513.31 632.86 513.21 637.6 512.87 642.35 C512.71 644.72 512.21 647.09 512.21 649.47 C512.21 658.37 512.21 667.27 512.21 676.17 L508.48 676.17 C508.48 667.27 508.48 658.37 508.48 649.47 C508.48 647.09 507.98 644.72 507.82 642.35 C507.48 637.6 507.38 632.86 507.05 628.11 C506.72 623.37 506.45 618.62 505.63 613.88 C504.98 610.08 501.26 606.29 499.65 602.49 C498.48 599.74 496.83 596.99 496.66 594.23 C496.54 592.24 496.45 590.25 496.45 588.26 C496.45 583.51 499.65 578.77 499.65 574.02 C499.65 569.85 499.3 565.67 499.3 561.49 C499.3 559.03 499.49 556.56 499.65 554.09 C499.91 550.3 501.08 546.5 501.08 542.7 C501.08 537.96 500.23 533.21 499.79 528.47 C499.49 525.15 498.87 521.83 498.87 518.51 C498.87 516.34 499.58 514.17 499.94 512 Z" fill="#90bef8" stroke="#000" stroke-width="1.05" stroke-linejoin="round"/><line x1="499.31" y1="561.25" x2="521.38" y2="561.25" stroke="#000" stroke-width="1.1"/><line x1="496.66" y1="594.08" x2="524.03" y2="594.08" stroke="#000" stroke-width="1" stroke-dasharray="2.5 1.4 0.8 1.4"/><line x1="499.79" y1="528.42" x2="520.9" y2="528.42" stroke="#000" stroke-width="1" stroke-dasharray="2.5 1.4 0.8 1.4"/>
<path d="M542.64 512 L548.8 512 C549.56 515.12 550.4 518.24 551.07 521.35 C552.1 526.1 553.78 530.84 553.78 535.59 C553.78 538.67 553.78 541.76 553.78 544.84 C553.78 548.87 553.07 552.91 553.07 556.94 C553.07 560.26 554.85 563.58 555.91 566.9 C557.06 570.46 559.83 574.02 559.83 577.58 C559.83 580.19 559.68 582.8 559.47 585.41 C559.24 588.35 557.52 591.29 556.63 594.23 C555.36 598.41 553.94 602.59 553.07 606.76 C552.07 611.51 551.56 616.25 550.72 621 C549.88 625.74 548 630.49 548 635.23 C548 639.98 548.56 644.72 548.65 649.47 C548.73 652.89 548.75 656.32 548.8 659.75 L542.64 659.75 C542.69 656.32 542.71 652.89 542.78 649.47 C542.88 644.72 543.44 639.98 543.44 635.23 C543.44 630.49 541.56 625.74 540.72 621 C539.88 616.25 539.37 611.51 538.37 606.76 C537.49 602.59 536.08 598.41 534.81 594.23 C533.92 591.29 532.2 588.35 531.96 585.41 C531.76 582.8 531.61 580.19 531.61 577.58 C531.61 574.02 534.38 570.46 535.52 566.9 C536.59 563.58 538.37 560.26 538.37 556.94 C538.37 552.91 537.66 548.87 537.66 544.84 C537.66 541.76 537.66 538.67 537.66 535.59 C537.66 530.84 539.34 526.1 540.36 521.35 C541.03 518.24 541.88 515.12 542.64 512 Z" fill="#ffa0a0" stroke="#000" stroke-width="1.05" stroke-linejoin="round"/><line x1="531.61" y1="577.67" x2="559.82" y2="577.67" stroke="#000" stroke-width="1.1"/><line x1="534.76" y1="594.08" x2="556.67" y2="594.08" stroke="#000" stroke-width="1" stroke-dasharray="1 1.4"/><line x1="537.66" y1="544.84" x2="553.78" y2="544.84" stroke="#000" stroke-width="1" stroke-dasharray="1 1.4"/>
<path d="M80.5 462.5 H576.2 V709 H80.5 Z" fill="none" stroke="#000" stroke-width="3"/>
<line x1="67" y1="709" x2="80.5" y2="709" stroke="#000" stroke-width="3"/>
<text x="58.2" y="716.1" text-anchor="end" font-size="20">0</text>
<line x1="67" y1="643.33" x2="80.5" y2="643.33" stroke="#000" stroke-width="3"/>
<text x="58.2" y="650.43" text-anchor="end" font-size="20">20</text>
<line x1="67" y1="577.67" x2="80.5" y2="577.67" stroke="#000" stroke-width="3"/>
<text x="58.2" y="584.77" text-anchor="end" font-size="20">40</text>
<line x1="67" y1="512" x2="80.5" y2="512" stroke="#000" stroke-width="3"/>
<text x="58.2" y="519.1" text-anchor="end" font-size="20">60</text>
<line x1="127.5" y1="709" x2="127.5" y2="722.5" stroke="#000" stroke-width="3"/>
<text x="135" y="740.1" text-anchor="end" font-size="19.6" transform="rotate(-45 135 740.1)">Communication</text>
<line x1="227.5" y1="709" x2="227.5" y2="722.5" stroke="#000" stroke-width="3"/>
<text x="235" y="740.1" text-anchor="end" font-size="19.6" transform="rotate(-45 235 740.1)">Gross motor</text>
<line x1="327.5" y1="709" x2="327.5" y2="722.5" stroke="#000" stroke-width="3"/>
<text x="335" y="740.1" text-anchor="end" font-size="19.6" transform="rotate(-45 335 740.1)">Fine motor</text>
<line x1="427.5" y1="709" x2="427.5" y2="722.5" stroke="#000" stroke-width="3"/>
<text x="435" y="740.1" text-anchor="end" font-size="19.6" transform="rotate(-45 435 740.1)">Problem solving</text>
<line x1="527.5" y1="709" x2="527.5" y2="722.5" stroke="#000" stroke-width="3"/>
<text x="535" y="740.1" text-anchor="end" font-size="19.6" transform="rotate(-45 535 740.1)">Personal-social</text>
<path d="M211.99 503 V497 H245.58 V503" fill="none" stroke="#000" stroke-width="2"/>
<text x="230.98" y="494" text-anchor="middle" font-size="21" font-weight="bold" letter-spacing="2.4">***</text>
<rect x="587.95" y="520.65" width="33" height="5.6" fill="#90bef8" stroke="#000" stroke-width="1.1" rx="0.6"/>
<rect x="587.95" y="545.65" width="33" height="5.9" fill="#ffa0a0" stroke="#000" stroke-width="1.1" rx="0.6"/>
<text x="630.9" y="530.2" font-size="19.4">Xi'an</text>
<text x="630.9" y="555" font-size="19.4">Lhasa</text>
<text x="-1.5" y="451.5" font-size="34" font-weight="bold">b</text>
<text x="19" y="585.75" text-anchor="middle" font-size="22.5" font-weight="bold" transform="rotate(-90 19 585.75)">ASQ score (month 12)</text>
<path d="M103.22 939.8 L116.64 939.8 C116.64 944.36 116.64 948.91 116.64 953.47 C116.64 956.79 117.37 960.11 117.63 963.43 C117.86 966.38 117.98 969.32 118.2 972.26 C118.44 975.49 118.72 978.71 119.06 981.94 C119.55 986.68 120.21 991.43 120.91 996.17 C121.61 1000.92 122.9 1005.66 123.33 1010.41 C123.67 1014.21 124.04 1018 124.04 1021.8 C124.04 1024.64 123.39 1027.49 122.9 1030.34 C122.43 1033.04 121.67 1035.75 120.91 1038.45 C119.8 1042.39 118.1 1046.33 116.92 1050.27 C115.93 1053.59 114.22 1056.91 114.22 1060.23 C114.22 1064.03 115.01 1067.82 115.36 1071.62 C115.66 1074.94 116.21 1078.26 116.21 1081.58 C116.21 1085.38 114.24 1089.18 113.36 1092.97 C112.5 1096.69 111.77 1100.41 110.97 1104.13 L108.89 1104.13 C108.09 1100.41 107.35 1096.69 106.5 1092.97 C105.62 1089.18 103.65 1085.38 103.65 1081.58 C103.65 1078.26 104.2 1074.94 104.5 1071.62 C104.85 1067.82 105.64 1064.03 105.64 1060.23 C105.64 1056.91 103.93 1053.59 102.94 1050.27 C101.76 1046.33 100.06 1042.39 98.95 1038.45 C98.19 1035.75 97.43 1033.04 96.96 1030.34 C96.46 1027.49 95.82 1024.64 95.82 1021.8 C95.82 1018 96.19 1014.21 96.53 1010.41 C96.96 1005.66 98.25 1000.92 98.95 996.17 C99.65 991.43 100.31 986.68 100.8 981.94 C101.14 978.71 101.42 975.49 101.66 972.26 C101.87 969.32 101.99 966.38 102.22 963.43 C102.48 960.11 103.22 956.79 103.22 953.47 C103.22 948.91 103.22 944.36 103.22 939.8 Z" fill="#90bef8" stroke="#000" stroke-width="1.05" stroke-linejoin="round"/><line x1="95.84" y1="1021.97" x2="124.02" y2="1021.97" stroke="#000" stroke-width="1.1"/><line x1="98.94" y1="1038.4" x2="120.92" y2="1038.4" stroke="#000" stroke-width="1" stroke-dasharray="2.5 1.4 0.8 1.4"/><line x1="101.62" y1="972.66" x2="118.24" y2="972.66" stroke="#000" stroke-width="1" stroke-dasharray="2.5 1.4 0.8 1.4"/>
<path d="M143.65 939.8 L147.38 939.8 C148.62 944.36 149.83 948.91 151.08 953.47 C152.39 958.21 154.63 962.96 155.07 967.7 C155.21 969.22 155.36 970.74 155.36 972.26 C155.36 976.44 152.51 980.61 152.51 984.79 C152.51 988.58 154.25 992.38 155.5 996.17 C156.51 999.26 159.48 1002.34 159.48 1005.43 C159.48 1007.09 159.42 1008.75 159.34 1010.41 C159.17 1014.21 157.73 1018 156.78 1021.8 C155.34 1027.49 153.33 1033.19 151.8 1038.88 C150.52 1043.62 148.41 1048.37 148.21 1053.11 C148.01 1057.86 147.88 1062.6 147.88 1067.35 C147.88 1074.13 147.88 1080.92 147.88 1087.7 L143.15 1087.7 C143.15 1080.92 143.15 1074.13 143.15 1067.35 C143.15 1062.6 143.02 1057.86 142.82 1053.11 C142.62 1048.37 140.52 1043.62 139.24 1038.88 C137.7 1033.19 135.69 1027.49 134.25 1021.8 C133.3 1018 131.87 1014.21 131.69 1010.41 C131.61 1008.75 131.55 1007.09 131.55 1005.43 C131.55 1002.34 134.52 999.26 135.53 996.17 C136.78 992.38 138.52 988.58 138.52 984.79 C138.52 980.61 135.68 976.44 135.68 972.26 C135.68 970.74 135.82 969.22 135.96 967.7 C136.4 962.96 138.64 958.21 139.95 953.47 C141.2 948.91 142.41 944.36 143.65 939.8 Z" fill="#ffa0a0" stroke="#000" stroke-width="1.05" stroke-linejoin="round"/><line x1="131.55" y1="1005.53" x2="159.48" y2="1005.53" stroke="#000" stroke-width="1.1"/><line x1="134.3" y1="1021.97" x2="156.73" y2="1021.97" stroke="#000" stroke-width="1" stroke-dasharray="1 1.4"/><line x1="135.77" y1="972.66" x2="155.26" y2="972.66" stroke="#000" stroke-width="1" stroke-dasharray="1 1.4"/>
<path d="M196.17 939.8 L224.22 939.8 C221.89 940.77 219.44 941.73 217.22 942.7 C215.24 943.57 212.55 944.43 211.55 945.3 C211.17 945.63 210.74 945.97 210.7 946.3 C210.54 947.67 210.49 949.03 210.49 950.4 C210.49 950.93 211.5 951.47 211.76 952 C212.44 953.37 213.12 954.73 213.12 956.1 C213.12 957.47 210.69 958.83 210.6 960.2 C210.47 962.07 210.4 963.93 210.4 965.8 C210.4 967.17 211.08 968.53 211.23 969.9 C211.33 970.77 211.45 971.63 211.45 972.5 C211.45 973.53 210.49 974.57 210.49 975.6 C210.49 979.2 210.81 982.8 210.81 986.4 C210.81 988.1 210.4 989.8 210.4 991.5 C210.4 1023.57 210.4 1055.63 210.4 1087.7 L210 1087.7 C210 1055.63 210 1023.57 210 991.5 C210 989.8 209.59 988.1 209.59 986.4 C209.59 982.8 209.91 979.2 209.91 975.6 C209.91 974.57 208.95 973.53 208.95 972.5 C208.95 971.63 209.07 970.77 209.17 969.9 C209.32 968.53 210 967.17 210 965.8 C210 963.93 209.93 962.07 209.8 960.2 C209.71 958.83 207.27 957.47 207.27 956.1 C207.27 954.73 207.96 953.37 208.64 952 C208.9 951.47 209.91 950.93 209.91 950.4 C209.91 949.03 209.86 947.67 209.7 946.3 C209.66 945.97 209.23 945.63 208.85 945.3 C207.85 944.43 205.16 943.57 203.17 942.7 C200.96 941.73 198.51 940.77 196.17 939.8 Z" fill="#90bef8" stroke="#000" stroke-width="1.05" stroke-linejoin="round"/>
<path d="M230.9 939.8 L260.11 939.8 C259.83 941.51 259.66 943.22 259.26 944.93 C258.42 948.49 255.27 952.05 254.06 955.6 C252.69 959.64 251.52 963.67 250.93 967.7 C250.24 972.45 249.7 977.19 249.51 981.94 C249.32 986.68 249.31 991.43 249.15 996.17 C249.05 999.26 248.93 1002.34 248.73 1005.43 C248.46 1009.46 247.43 1013.49 247.13 1017.53 C246.77 1022.27 246.62 1027.02 246.38 1031.76 C246.15 1036.51 245.72 1041.25 245.72 1046 C245.72 1050.74 246.88 1055.49 246.88 1060.23 C246.88 1064.98 246.88 1069.72 246.88 1074.47 C246.88 1084.36 246.66 1094.24 246.55 1104.13 L244.46 1104.13 C244.35 1094.24 244.13 1084.36 244.13 1074.47 C244.13 1069.72 244.13 1064.98 244.13 1060.23 C244.13 1055.49 245.29 1050.74 245.29 1046 C245.29 1041.25 244.86 1036.51 244.63 1031.76 C244.4 1027.02 244.24 1022.27 243.89 1017.53 C243.58 1013.49 242.56 1009.46 242.29 1005.43 C242.08 1002.34 241.96 999.26 241.86 996.17 C241.7 991.43 241.69 986.68 241.5 981.94 C241.31 977.19 240.77 972.45 240.08 967.7 C239.49 963.67 238.32 959.64 236.95 955.6 C235.74 952.05 232.59 948.49 231.75 944.93 C231.35 943.22 231.18 941.51 230.9 939.8 Z" fill="#ffa0a0" stroke="#000" stroke-width="1.05" stroke-linejoin="round"/><line x1="237.11" y1="956.23" x2="253.9" y2="956.23" stroke="#000" stroke-width="1.1"/><line x1="242.3" y1="1005.53" x2="248.71" y2="1005.53" stroke="#000" stroke-width="1" stroke-dasharray="1 1.4"/>
<path d="M296.24 939.8 L324.46 939.8 C324.31 941.98 324.21 944.17 324.03 946.35 C323.76 949.58 322.82 952.81 322.82 956.03 C322.82 958.97 323.17 961.92 323.25 964.86 C323.31 967.33 323.39 969.79 323.39 972.26 C323.39 974.54 321.74 976.81 320.9 979.09 C319.66 982.41 317.12 985.74 317.12 989.06 C317.12 992.38 318.38 995.7 318.55 999.02 C318.66 1001.16 318.76 1003.29 318.76 1005.43 C318.76 1009.46 316.21 1013.49 315.56 1017.53 C314.79 1022.27 314.61 1027.02 313.92 1031.76 C313.23 1036.51 311.67 1041.25 311.14 1046 C310.87 1048.37 310.55 1050.74 310.55 1053.11 C310.55 1055.49 310.63 1057.86 310.73 1060.23 C310.82 1062.6 311.39 1064.98 311.39 1067.35 C311.39 1072.09 311.39 1076.84 311.39 1081.58 C311.39 1089.1 311.22 1096.62 311.14 1104.13 L309.55 1104.13 C309.47 1096.62 309.3 1089.1 309.3 1081.58 C309.3 1076.84 309.3 1072.09 309.3 1067.35 C309.3 1064.98 309.87 1062.6 309.96 1060.23 C310.06 1057.86 310.15 1055.49 310.15 1053.11 C310.15 1050.74 309.82 1048.37 309.55 1046 C309.02 1041.25 307.46 1036.51 306.77 1031.76 C306.08 1027.02 305.9 1022.27 305.13 1017.53 C304.48 1013.49 301.93 1009.46 301.93 1005.43 C301.93 1003.29 302.03 1001.16 302.14 999.02 C302.31 995.7 303.57 992.38 303.57 989.06 C303.57 985.74 301.03 982.41 299.79 979.09 C298.95 976.81 297.3 974.54 297.3 972.26 C297.3 969.79 297.38 967.33 297.45 964.86 C297.53 961.92 297.87 958.97 297.87 956.03 C297.87 952.81 296.93 949.58 296.66 946.35 C296.48 944.17 296.38 941.98 296.24 939.8 Z" fill="#90bef8" stroke="#000" stroke-width="1.05" stroke-linejoin="round"/><line x1="297.45" y1="972.66" x2="323.24" y2="972.66" stroke="#000" stroke-width="1.1"/><line x1="301.96" y1="1005.53" x2="318.73" y2="1005.53" stroke="#000" stroke-width="1" stroke-dasharray="2.5 1.4 0.8 1.4"/><line x1="297.86" y1="956.23" x2="322.83" y2="956.23" stroke="#000" stroke-width="1" stroke-dasharray="2.5 1.4 0.8 1.4"/>
<path d="M331.25 939.8 L359.76 939.8 C359.4 941.98 359.16 944.17 358.69 946.35 C357.87 950.15 355.23 953.94 354.63 957.74 C353.87 962.58 353.21 967.42 353.21 972.26 C353.21 977.86 353.21 983.46 353.21 989.06 C353.21 994.51 350.93 999.97 350.93 1005.43 C350.93 1011.83 350.93 1018.24 350.93 1024.64 C350.93 1029.39 350.79 1034.13 350.58 1038.88 C350.36 1043.62 347.3 1048.37 346.55 1053.11 C346.17 1055.49 345.71 1057.86 345.71 1060.23 C345.71 1074.87 345.71 1089.5 345.71 1104.13 L345.31 1104.13 C345.31 1089.5 345.31 1074.87 345.31 1060.23 C345.31 1057.86 344.84 1055.49 344.46 1053.11 C343.71 1048.37 340.65 1043.62 340.43 1038.88 C340.22 1034.13 340.08 1029.39 340.08 1024.64 C340.08 1018.24 340.08 1011.83 340.08 1005.43 C340.08 999.97 337.8 994.51 337.8 989.06 C337.8 983.46 337.8 977.86 337.8 972.26 C337.8 967.42 337.14 962.58 336.38 957.74 C335.78 953.94 333.14 950.15 332.32 946.35 C331.85 944.17 331.61 941.98 331.25 939.8 Z" fill="#ffa0a0" stroke="#000" stroke-width="1.05" stroke-linejoin="round"/><line x1="337.8" y1="972.66" x2="353.21" y2="972.66" stroke="#000" stroke-width="1.1"/><line x1="340.08" y1="1005.53" x2="350.93" y2="1005.53" stroke="#000" stroke-width="1" stroke-dasharray="1 1.4"/>
<path d="M399.87 939.8 L420.68 939.8 C421.44 941.98 422.5 944.17 422.96 946.35 C423.65 949.58 424.38 952.81 424.38 956.03 C424.38 958.97 422.32 961.92 421.75 964.86 C421.1 968.18 420.33 971.5 420.33 974.82 C420.33 979.57 420.47 984.31 420.47 989.06 C420.47 993.8 420.03 998.55 419.62 1003.29 C419.33 1006.61 418.6 1009.93 418.19 1013.26 C417.84 1016.1 417.27 1018.95 417.27 1021.8 C417.27 1024.64 418.55 1027.49 419.05 1030.34 C419.46 1032.71 420.11 1035.08 420.11 1037.46 C420.11 1040.3 417.27 1043.15 415.84 1046 C414.18 1049.32 411.02 1052.64 410.82 1055.96 C410.6 1059.76 410.47 1063.55 410.47 1067.35 C410.47 1079.61 410.47 1091.87 410.47 1104.13 L410.07 1104.13 C410.07 1091.87 410.07 1079.61 410.07 1067.35 C410.07 1063.55 409.95 1059.76 409.73 1055.96 C409.53 1052.64 406.37 1049.32 404.71 1046 C403.28 1043.15 400.43 1040.3 400.43 1037.46 C400.43 1035.08 401.09 1032.71 401.5 1030.34 C402 1027.49 403.28 1024.64 403.28 1021.8 C403.28 1018.95 402.71 1016.1 402.36 1013.26 C401.95 1009.93 401.22 1006.61 400.93 1003.29 C400.52 998.55 400.08 993.8 400.08 989.06 C400.08 984.31 400.22 979.57 400.22 974.82 C400.22 971.5 399.44 968.18 398.8 964.86 C398.23 961.92 396.16 958.97 396.16 956.03 C396.16 952.81 396.9 949.58 397.59 946.35 C398.05 944.17 399.11 941.98 399.87 939.8 Z" fill="#90bef8" stroke="#000" stroke-width="1.05" stroke-linejoin="round"/><line x1="400.08" y1="989.1" x2="420.47" y2="989.1" stroke="#000" stroke-width="1.1"/><line x1="403.25" y1="1021.97" x2="417.3" y2="1021.97" stroke="#000" stroke-width="1" stroke-dasharray="2.5 1.4 0.8 1.4"/><line x1="396.22" y1="956.23" x2="424.32" y2="956.23" stroke="#000" stroke-width="1" stroke-dasharray="2.5 1.4 0.8 1.4"/>
<path d="M444.77 939.8 L446.52 939.8 C446.86 941.03 447 942.27 447.52 943.51 C448.31 945.4 452.6 947.3 454.42 949.2 C456.6 951.48 459.76 953.75 459.76 956.03 C459.76 957.55 455.92 959.07 455.13 960.59 C453.9 962.96 452.78 965.33 452.78 967.7 C452.78 969.22 454.06 970.74 454.06 972.26 C454.06 975.01 453.35 977.76 453.35 980.52 C453.35 983.36 456.2 986.21 456.2 989.06 C456.2 991.43 452.35 993.8 451 996.17 C449.39 999.02 447.1 1001.87 447.1 1004.72 C447.1 1008.51 447.51 1012.31 447.93 1016.1 C448.19 1018.48 449.29 1020.85 449.29 1023.22 C449.29 1026.54 447.79 1029.86 447.52 1033.19 C447.17 1037.46 446.86 1041.73 446.86 1046 C446.86 1048.94 447.13 1051.89 447.27 1054.83 L444.03 1054.83 C444.17 1051.89 444.44 1048.94 444.44 1046 C444.44 1041.73 444.13 1037.46 443.78 1033.19 C443.51 1029.86 442 1026.54 442 1023.22 C442 1020.85 443.11 1018.48 443.37 1016.1 C443.78 1012.31 444.19 1008.51 444.19 1004.72 C444.19 1001.87 441.9 999.02 440.29 996.17 C438.95 993.8 435.1 991.43 435.1 989.06 C435.1 986.21 437.94 983.36 437.94 980.52 C437.94 977.76 437.23 975.01 437.23 972.26 C437.23 970.74 438.51 969.22 438.51 967.7 C438.51 965.33 437.39 962.96 436.16 960.59 C435.38 959.07 431.54 957.55 431.54 956.03 C431.54 953.75 434.7 951.48 436.88 949.2 C438.69 947.3 442.98 945.4 443.78 943.51 C444.3 942.27 444.44 941.03 444.77 939.8 Z" fill="#ffa0a0" stroke="#000" stroke-width="1.05" stroke-linejoin="round"/><line x1="437.27" y1="972.66" x2="454.03" y2="972.66" stroke="#000" stroke-width="1.1"/><line x1="435.13" y1="989.1" x2="456.17" y2="989.1" stroke="#000" stroke-width="1" stroke-dasharray="1 1.4"/><line x1="431.74" y1="956.23" x2="459.55" y2="956.23" stroke="#000" stroke-width="1" stroke-dasharray="1 1.4"/>
<path d="M496.38 939.8 L524.6 939.8 C524.27 941.03 523.99 942.27 523.6 943.51 C522.85 945.88 520.75 948.25 520.75 950.62 C520.75 952.43 520.75 954.23 520.75 956.03 C520.75 958.97 520.86 961.92 521.04 964.86 C521.19 967.33 523.74 969.79 523.74 972.26 C523.74 974.54 521.63 976.81 521.32 979.09 C520.88 982.41 520.78 985.74 520.54 989.06 C520.31 992.38 519.9 995.7 519.9 999.02 C519.9 1001.16 520.33 1003.29 520.33 1005.43 C520.33 1008.04 518.18 1010.65 517.69 1013.26 C516.98 1017.05 516.39 1020.85 516.27 1024.64 C516.15 1028.44 516.19 1032.24 516.06 1036.03 C515.94 1039.35 514.8 1042.67 513.92 1046 C513.14 1048.94 511.89 1051.89 510.87 1054.83 L510.11 1054.83 C509.09 1051.89 507.84 1048.94 507.05 1046 C506.17 1042.67 505.04 1039.35 504.92 1036.03 C504.79 1032.24 504.83 1028.44 504.71 1024.64 C504.58 1020.85 503.99 1017.05 503.28 1013.26 C502.79 1010.65 500.65 1008.04 500.65 1005.43 C500.65 1003.29 501.08 1001.16 501.08 999.02 C501.08 995.7 500.67 992.38 500.43 989.06 C500.2 985.74 500.1 982.41 499.65 979.09 C499.35 976.81 497.23 974.54 497.23 972.26 C497.23 969.79 499.79 967.33 499.94 964.86 C500.12 961.92 500.22 958.97 500.22 956.03 C500.22 954.23 500.22 952.43 500.22 950.62 C500.22 948.25 498.12 945.88 497.37 943.51 C496.98 942.27 496.71 941.03 496.38 939.8 Z" fill="#90bef8" stroke="#000" stroke-width="1.05" stroke-linejoin="round"/><line x1="497.38" y1="972.66" x2="523.6" y2="972.66" stroke="#000" stroke-width="1.1"/><line x1="500.68" y1="1005.53" x2="520.29" y2="1005.53" stroke="#000" stroke-width="1" stroke-dasharray="2.5 1.4 0.8 1.4"/><line x1="500.21" y1="956.23" x2="520.76" y2="956.23" stroke="#000" stroke-width="1" stroke-dasharray="2.5 1.4 0.8 1.4"/>
<path d="M535.1 939.8 L556.2 939.8 C556.91 941.98 557.88 944.17 558.33 946.35 C559 949.58 559.76 952.81 559.76 956.03 C559.76 958.97 559.23 961.92 558.83 964.86 C558.49 967.33 557.96 969.79 557.41 972.26 C556.69 975.49 555.39 978.71 554.78 981.94 C554.32 984.31 553.71 986.68 553.71 989.06 C553.71 992.38 554.78 995.7 554.78 999.02 C554.78 1001.16 554.61 1003.29 554.42 1005.43 C554.05 1009.46 549.97 1013.49 549.44 1017.53 C548.81 1022.27 548.74 1027.02 548.34 1031.76 C547.94 1036.51 547.43 1041.25 547.02 1046 C546.61 1050.74 545.86 1055.49 545.86 1060.23 C545.86 1064.98 545.99 1069.72 546.11 1074.47 C546.22 1078.88 546.5 1083.29 546.69 1087.7 L544.61 1087.7 C544.8 1083.29 545.07 1078.88 545.18 1074.47 C545.3 1069.72 545.43 1064.98 545.43 1060.23 C545.43 1055.49 544.69 1050.74 544.28 1046 C543.86 1041.25 543.35 1036.51 542.95 1031.76 C542.55 1027.02 542.49 1022.27 541.86 1017.53 C541.32 1013.49 537.24 1009.46 536.88 1005.43 C536.68 1003.29 536.52 1001.16 536.52 999.02 C536.52 995.7 537.59 992.38 537.59 989.06 C537.59 986.68 536.97 984.31 536.52 981.94 C535.91 978.71 534.61 975.49 533.89 972.26 C533.33 969.79 532.8 967.33 532.46 964.86 C532.06 961.92 531.54 958.97 531.54 956.03 C531.54 952.81 532.29 949.58 532.96 946.35 C533.42 944.17 534.38 941.98 535.1 939.8 Z" fill="#ffa0a0" stroke="#000" stroke-width="1.05" stroke-linejoin="round"/><line x1="534" y1="972.66" x2="557.3" y2="972.66" stroke="#000" stroke-width="1.1"/><line x1="536.92" y1="1005.53" x2="554.38" y2="1005.53" stroke="#000" stroke-width="1" stroke-dasharray="1 1.4"/><line x1="531.56" y1="956.23" x2="559.74" y2="956.23" stroke="#000" stroke-width="1" stroke-dasharray="1 1.4"/>
<path d="M80.5 890 H576.2 V1137 H80.5 Z" fill="none" stroke="#000" stroke-width="3"/>
<line x1="67" y1="1137" x2="80.5" y2="1137" stroke="#000" stroke-width="3"/>
<text x="58.2" y="1144.1" text-anchor="end" font-size="20">0</text>
<line x1="67" y1="1071.27" x2="80.5" y2="1071.27" stroke="#000" stroke-width="3"/>
<text x="58.2" y="1078.37" text-anchor="end" font-size="20">20</text>
<line x1="67" y1="1005.53" x2="80.5" y2="1005.53" stroke="#000" stroke-width="3"/>
<text x="58.2" y="1012.63" text-anchor="end" font-size="20">40</text>
<line x1="67" y1="939.8" x2="80.5" y2="939.8" stroke="#000" stroke-width="3"/>
<text x="58.2" y="946.9" text-anchor="end" font-size="20">60</text>
<line x1="127.5" y1="1137" x2="127.5" y2="1150.5" stroke="#000" stroke-width="3"/>
<text x="135" y="1168.1" text-anchor="end" font-size="19.6" transform="rotate(-45 135 1168.1)">Communication</text>
<line x1="227.5" y1="1137" x2="227.5" y2="1150.5" stroke="#000" stroke-width="3"/>
<text x="235" y="1168.1" text-anchor="end" font-size="19.6" transform="rotate(-45 235 1168.1)">Gross motor</text>
<line x1="327.5" y1="1137" x2="327.5" y2="1150.5" stroke="#000" stroke-width="3"/>
<text x="335" y="1168.1" text-anchor="end" font-size="19.6" transform="rotate(-45 335 1168.1)">Fine motor</text>
<line x1="427.5" y1="1137" x2="427.5" y2="1150.5" stroke="#000" stroke-width="3"/>
<text x="435" y="1168.1" text-anchor="end" font-size="19.6" transform="rotate(-45 435 1168.1)">Problem solving</text>
<line x1="527.5" y1="1137" x2="527.5" y2="1150.5" stroke="#000" stroke-width="3"/>
<text x="535" y="1168.1" text-anchor="end" font-size="19.6" transform="rotate(-45 535 1168.1)">Personal-social</text>
<path d="M211.2 929.5 V923.5 H244.51 V929.5" fill="none" stroke="#000" stroke-width="1.6"/>
<text x="229.05" y="920.7" text-anchor="middle" font-size="21" font-weight="bold" letter-spacing="2.4">***</text>
<rect x="587.85" y="948.25" width="33.1" height="6.2" fill="#90bef8" stroke="#000" stroke-width="1.1" rx="0.6"/>
<rect x="587.85" y="971.95" width="33.1" height="6.4" fill="#ffa0a0" stroke="#000" stroke-width="1.1" rx="0.6"/>
<text x="632" y="958" font-size="19.1">Xi'an</text>
<text x="632" y="980.6" font-size="19.1">Lhasa</text>
<text x="-1.5" y="879" font-size="34" font-weight="bold">c</text>
<text x="19" y="1013.5" text-anchor="middle" font-size="22.5" font-weight="bold" transform="rotate(-90 19 1013.5)">ASQ score (month 18)</text>
</svg>
</body></html>
